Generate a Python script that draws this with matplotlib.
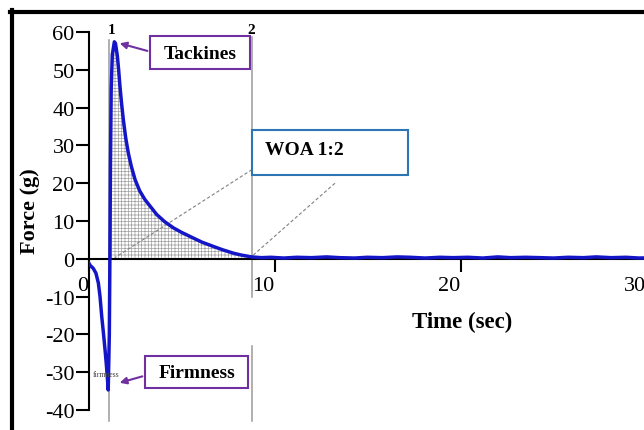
import numpy as np
import matplotlib
matplotlib.use("Agg")
from matplotlib import pyplot as plt
from matplotlib.patches import Rectangle
from matplotlib.lines import Line2D

plt.rcParams['font.family'] = ['Liberation Serif', 'DejaVu Serif']
plt.rcParams['axes.unicode_minus'] = False
plt.rcParams['hatch.linewidth'] = 0.5
plt.rcParams['hatch.color'] = '#a0a0a0'

# Texture analyser trace: force (g) against time (sec)
time = [0.0, 0.1, 0.25, 0.4, 0.53, 0.62, 0.71, 0.8, 0.89, 0.96, 1.01, 1.06,
        1.12, 1.15, 1.18, 1.22, 1.28, 1.39, 1.45, 1.55, 1.62, 1.69, 1.78,
        1.87, 2.0, 2.14, 2.3, 2.50, 2.75, 3.03, 3.3, 3.67, 4.1, 4.56, 5.0,
        5.63, 6.1, 6.70, 7.2, 7.78, 8.2, 8.77, 9.3, 9.8, 10.5, 11.2, 12.0,
        12.8, 13.5, 14.3, 15.0, 15.8, 16.6, 17.3, 18.1, 18.9, 19.6, 20.4,
        21.2, 22.0, 22.7, 23.5, 24.3, 25.0, 25.8, 26.6, 27.3, 28.1, 28.9,
        29.6, 30.4, 31.0]
force = [-1.0, -1.8, -2.5, -3.8, -6.4, -10.0, -15.2, -19.5, -24.1, -28.0,
         -31.2, -34.7, -20.0, 0.0, 25.0, 45.0, 54.0, 57.4, 57.0, 53.7, 50.0,
         45.7, 41.0, 36.9, 32.0, 28.0, 24.5, 21.0, 18.0, 15.7, 14.0, 11.7,
         9.8, 8.2, 7.0, 5.5, 4.4, 3.3, 2.4, 1.5, 1.0, 0.5, 0.3, 0.4, 0.2,
         0.4, 0.3, 0.5, 0.3, 0.2, 0.4, 0.3, 0.5, 0.4, 0.2, 0.4, 0.3, 0.4,
         0.2, 0.5, 0.3, 0.4, 0.3, 0.2, 0.4, 0.3, 0.5, 0.3, 0.4, 0.2, 0.3,
         0.4]

# anchors 1 and 2 of the work-of-adhesion window
anchor_1 = 1.12
anchor_2 = 8.77

x_ticks = [0, 10, 20, 30]
y_ticks = [-40, -30, -20, -10, 0, 10, 20, 30, 40, 50, 60]

t = np.array(time)
f = np.array(force)

fig = plt.figure(figsize=(6.44, 4.31), dpi=100)
ax = fig.add_axes([88.5 / 644, 20 / 431, 576.6 / 644, 378 / 431])
ax.set_xlim(0, 31)
ax.set_ylim(-40, 60)

for s in ['top', 'right']:
    ax.spines[s].set_visible(False)
ax.spines['bottom'].set_position(('data', 0))
ax.spines['left'].set_linewidth(1.5)
ax.spines['bottom'].set_linewidth(1.5)

ax.set_xticks(x_ticks)
ax.set_yticks(y_ticks)
ax.tick_params(axis='y', direction='out', length=9.5, width=1.5, labelsize=16, pad=0.5)
ax.tick_params(axis='x', direction='out', length=9.5, width=1.5, labelsize=16, pad=3)
for lab in ax.get_xticklabels():
    lab.set_horizontalalignment('right')

# shaded area between anchors
mask = (t >= anchor_1) & (t <= anchor_2 + 0.05)
ax.fill_between(t, 0, np.clip(f, 0, None), where=mask, interpolate=True,
                facecolor='none', edgecolor='#a0a0a0', hatch='+++++', linewidth=0)

ax.plot(t, f, color='#1515c8', lw=2.5, solid_joinstyle='round', zorder=4)

# anchor lines
ax.plot([anchor_1, anchor_1], [58.0, -43.0], color='#9a9a9a', lw=1.1, clip_on=False, zorder=2)
ax.plot([anchor_2, anchor_2], [58.8, -10.0], color='#9a9a9a', lw=1.1, clip_on=False, zorder=2)
ax.plot([anchor_2, anchor_2], [-23.2, -43.0], color='#9a9a9a', lw=1.1, clip_on=False, zorder=2)
ax.text(anchor_1 + 0.13, 60.7, '1', fontsize=11, fontweight='bold', ha='center', va='center')
ax.text(anchor_2, 60.7, '2', fontsize=11, fontweight='bold', ha='center', va='center')

# dashed leaders to the WOA box
ax.plot([8.79, 1.42], [23.6, 0.3], color='#808080', lw=0.8, ls=(0, (3, 2)), zorder=3)
ax.plot([13.25, 8.84], [20.0, 0.9], color='#808080', lw=0.8, ls=(0, (3, 2)), zorder=3)

purple = '#7030a0'
ax.add_patch(Rectangle((3.31, 50.1), 5.37, 8.8, facecolor='white', edgecolor=purple, lw=1.5, zorder=5))
ax.text(5.99, 54.4, 'Tackines', fontsize=14, fontweight='bold', ha='center', va='center', zorder=6)
ax.annotate('', xy=(1.53, 57.2), xytext=(3.31, 54.8),
            arrowprops=dict(arrowstyle='-|>', color=purple, lw=1.5, mutation_scale=10), zorder=6)

ax.add_patch(Rectangle((3.04, -34.3), 5.54, 8.5, facecolor='white', edgecolor=purple, lw=1.5, zorder=5))
ax.text(5.81, -30.0, 'Firmness', fontsize=14, fontweight='bold', ha='center', va='center', zorder=6)
ax.annotate('', xy=(1.53, -33.0), xytext=(3.04, -30.9),
            arrowprops=dict(arrowstyle='-|>', color=purple, lw=1.5, mutation_scale=10), zorder=6)
ax.text(0.24, -30.6, 'firmness', fontsize=5.5, color='#444444', ha='left', va='center', zorder=6)

ax.add_patch(Rectangle((8.79, 22.3), 8.39, 11.9, facecolor='white', edgecolor='#2e75b6', lw=1.5, zorder=5))
ax.text(9.49, 28.9, 'WOA 1:2', fontsize=14, fontweight='bold', ha='left', va='center', zorder=6)

fig.text(462 / 644, 1 - 322 / 431, 'Time (sec)', fontsize=16.5, fontweight='bold', ha='center', va='center')
fig.text(30 / 644, 1 - 211 / 431, 'Force (g)', fontsize=16, fontweight='bold', ha='center', va='center',
         rotation=90)

# outer frame, top and left edges
fig.add_artist(Line2D([10 / 644, 1], [1 - 12.5 / 431] * 2, color='black', lw=3, transform=fig.transFigure))
fig.add_artist(Line2D([11.5 / 644] * 2, [1 - 11 / 431, 0], color='black', lw=3, transform=fig.transFigure))

fig.savefig('out.png', dpi=100)
